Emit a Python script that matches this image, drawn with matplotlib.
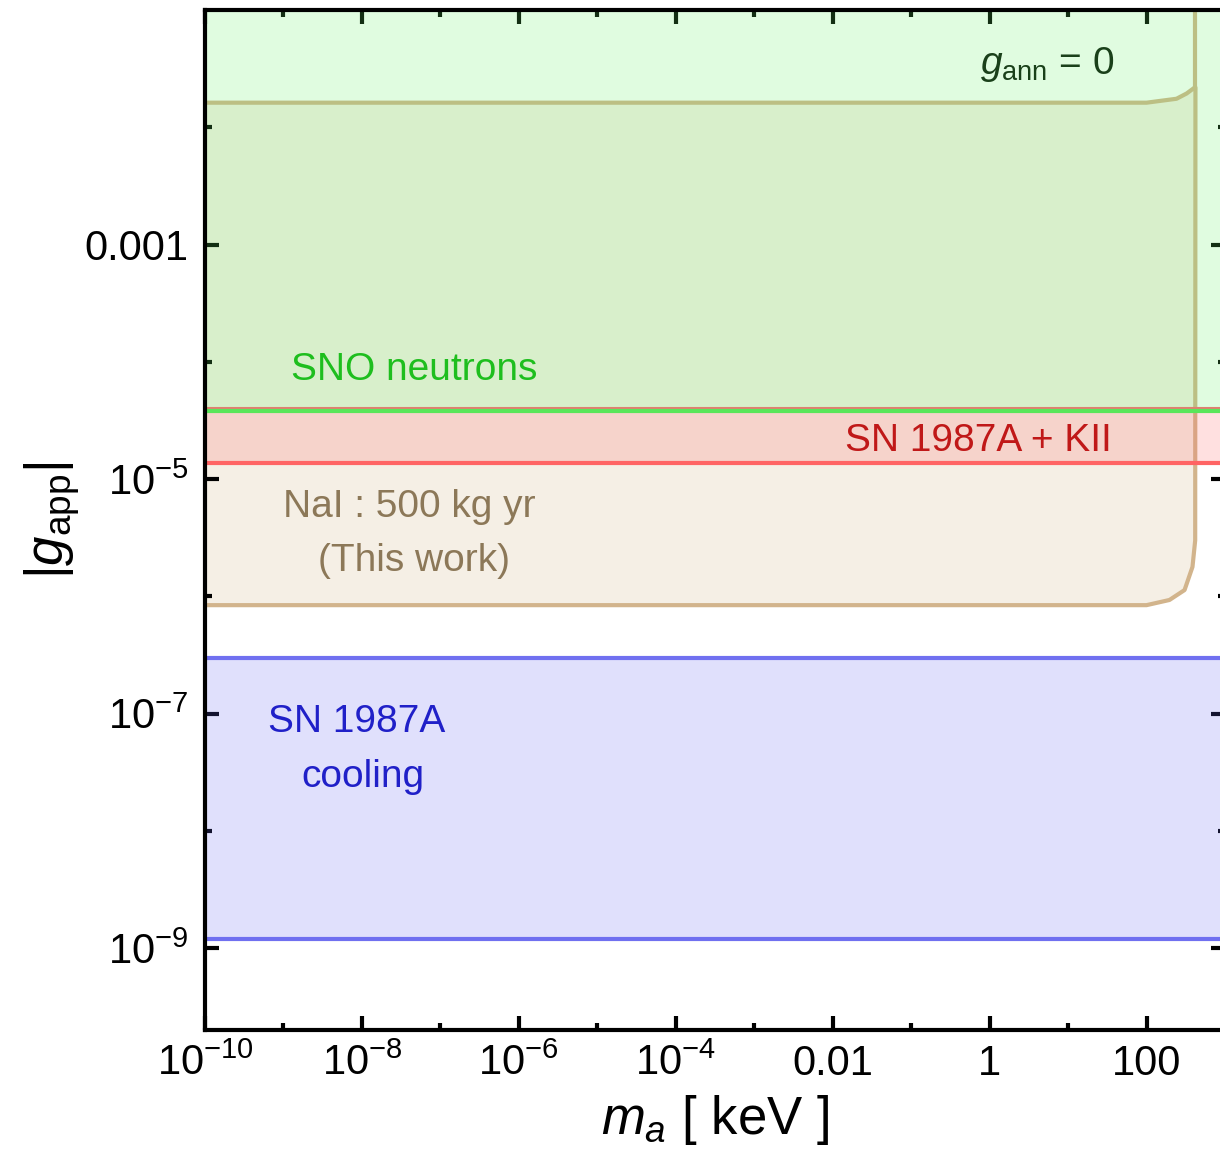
import numpy as np
import matplotlib
matplotlib.use("Agg")
import matplotlib.pyplot as plt
from matplotlib.ticker import FixedLocator, NullFormatter

plt.rcParams['font.family'] = ['Liberation Sans', 'DejaVu Sans']
plt.rcParams['mathtext.fontset'] = 'custom'
plt.rcParams['mathtext.rm'] = 'Liberation Sans'
plt.rcParams['mathtext.it'] = 'Liberation Sans:italic'
plt.rcParams['mathtext.bf'] = 'Liberation Sans:bold'

# ---- data ----
x_range = [1e-10, 1e3]
y_range = [2e-10, 1e-1]

sno_band = [3.8e-5, 1e-1]          # SNO neutrons (excluded above)
kii_band = [1.37e-5, 4.0e-5]       # SN 1987A + KII
cooling_band = [1.2e-9, 3.0e-7]    # SN 1987A cooling

# NaI 500 kg yr sensitivity contour (This work)
nai_lower_m = [1e-10, 1e2, 196, 305, 385, 417, 420]
nai_lower_g = [8.4e-7, 8.4e-7, 9.3e-7, 1.13e-6, 1.78e-6, 3.0e-6, 2.18e-2]
nai_upper_m = [420, 410, 324, 241, 1e2, 1e-10]
nai_upper_g = [2.18e-2, 2.18e-2, 1.94e-2, 1.75e-2, 1.62e-2, 1.62e-2]
nai_vertical_m = [420, 420]
nai_vertical_g = [2.18e-2, 1e-1]

x_major = [1e-10, 1e-8, 1e-6, 1e-4, 1e-2, 1, 1e2]
x_major_labels = [r'$10^{-10}$', r'$10^{-8}$', r'$10^{-6}$', r'$10^{-4}$', '0.01', '1', '100']
x_minor = [1e-9, 1e-7, 1e-5, 1e-3, 1e-1, 1e1, 1e3]
y_major = [1e-9, 1e-7, 1e-5, 1e-3]
y_major_labels = [r'$10^{-9}$', r'$10^{-7}$', r'$10^{-5}$', '0.001']
y_minor = [1e-8, 1e-6, 1e-4, 1e-2]

fig = plt.figure(figsize=(12.2, 11.64), dpi=100)
ax = fig.add_axes([205/1220, 134/1164, 1020/1220, 1020/1164])
ax.set_xscale('log')
ax.set_yscale('log')
ax.set_xlim(*x_range)
ax.set_ylim(*y_range)

# NaI region (tan)
poly_m = nai_lower_m + nai_upper_m
poly_g = nai_lower_g + nai_upper_g
ax.fill(poly_m, poly_g, color='#f5efe5', lw=0, zorder=1)
ax.plot(poly_m, poly_g, color='#d2b48c', lw=3, zorder=2, solid_joinstyle='round')
ax.plot(nai_vertical_m, nai_vertical_g, color='#d2b48c', lw=3, zorder=2)

# bands (semi-transparent overlays)
ax.fill_between(x_range, sno_band[0], sno_band[1], color=(100/255, 240/255, 100/255), alpha=0.2, lw=0, zorder=3)
ax.fill_between(x_range, kii_band[0], kii_band[1], color=(1.0, 100/255, 100/255), alpha=0.2, lw=0, zorder=3)
ax.fill_between(x_range, cooling_band[0], cooling_band[1], color=(100/255, 100/255, 240/255), alpha=0.2, lw=0, zorder=3)

ax.plot(x_range, [kii_band[1]] * 2, color='#e08070', lw=1.5, zorder=4)
ax.plot(x_range, [sno_band[0]] * 2, color='#5ae65a', lw=3, zorder=5)
ax.plot(x_range, [kii_band[0]] * 2, color='#ff6464', lw=3, zorder=4)
ax.plot(x_range, [cooling_band[0]] * 2, color='#7070f0', lw=3, zorder=4)
ax.plot(x_range, [cooling_band[1]] * 2, color='#7070f0', lw=3, zorder=4)

# ticks
ax.xaxis.set_major_locator(FixedLocator(x_major))
ax.set_xticklabels(x_major_labels)
ax.xaxis.set_minor_locator(FixedLocator(x_minor))
ax.xaxis.set_minor_formatter(NullFormatter())
ax.yaxis.set_major_locator(FixedLocator(y_major))
ax.set_yticklabels(y_major_labels)
ax.yaxis.set_minor_locator(FixedLocator(y_minor))
ax.yaxis.set_minor_formatter(NullFormatter())
ax.tick_params(which='both', direction='in', top=True, right=True, labelsize=30, width=3)
ax.tick_params(which='major', length=10)
ax.tick_params(which='minor', length=5)
ax.tick_params(axis='x', which='major', pad=10)
ax.tick_params(axis='y', which='major', pad=12)
for s in ax.spines.values():
    s.set_linewidth(3)
    s.set_zorder(10)

ax.set_xlabel(r'$m_a$ [ keV ]', fontsize=38, labelpad=6)
ax.set_ylabel(r'$|g_{\mathrm{app}}|$', fontsize=38, labelpad=2)

# annotations
ax.text(0.892, 0.937, r'$g_{\mathrm{ann}}$ = 0', transform=ax.transAxes, ha='right', va='baseline',
        fontsize=28, color='#1a401a', zorder=12)
ax.text(0.205, 0.637, 'SNO neutrons', transform=ax.transAxes, ha='center', va='baseline',
        fontsize=28, color='#1ebe1e', zorder=12)
ax.text(0.889, 0.568, 'SN 1987A + KII', transform=ax.transAxes, ha='right', va='baseline',
        fontsize=28, color='#c01818', zorder=12)
ax.text(0.2, 0.503, 'NaI : 500 kg yr', transform=ax.transAxes, ha='center', va='baseline',
        fontsize=28, color='#8c7858', zorder=12)
ax.text(0.205, 0.45, '(This work)', transform=ax.transAxes, ha='center', va='baseline',
        fontsize=28, color='#8c7858', zorder=12)
ax.text(0.149, 0.292, 'SN 1987A', transform=ax.transAxes, ha='center', va='baseline',
        fontsize=28, color='#2020c8', zorder=12)
ax.text(0.155, 0.238, 'cooling', transform=ax.transAxes, ha='center', va='baseline',
        fontsize=28, color='#2020c8', zorder=12)

fig.savefig('out.png', dpi=100)
